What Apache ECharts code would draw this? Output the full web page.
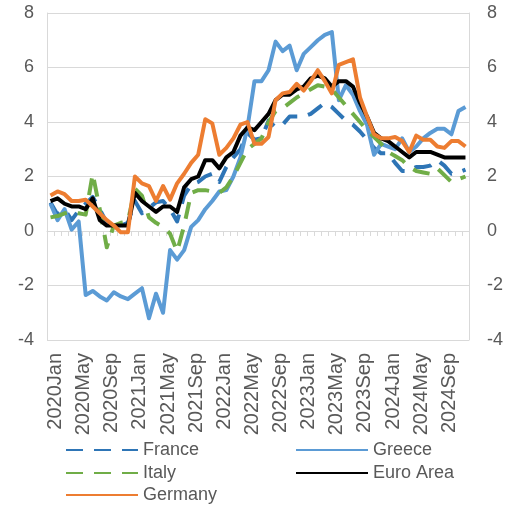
<!DOCTYPE html>
<html>
<head>
<meta charset="utf-8">
<script src="https://cdn.jsdelivr.net/npm/echarts@6/dist/echarts.min.js"></script>
<style>
html,body{margin:0;padding:0;background:#fff;}
#chart{width:515px;height:505px;}
</style>
</head>
<body>
<div id="chart"></div>
<script>
var categories = [
"2020Jan","2020Feb","2020Mar","2020Apr","2020May","2020Jun","2020Jul","2020Aug","2020Sep","2020Oct","2020Nov","2020Dec",
"2021Jan","2021Feb","2021Mar","2021Apr","2021May","2021Jun","2021Jul","2021Aug","2021Sep","2021Oct","2021Nov","2021Dec",
"2022Jan","2022Feb","2022Mar","2022Apr","2022May","2022Jun","2022Jul","2022Aug","2022Sep","2022Oct","2022Nov","2022Dec",
"2023Jan","2023Feb","2023Mar","2023Apr","2023May","2023Jun","2023Jul","2023Aug","2023Sep","2023Oct","2023Nov","2023Dec",
"2024Jan","2024Feb","2024Mar","2024Apr","2024May","2024Jun","2024Jul","2024Aug","2024Sep","2024Oct","2024Nov","2024Dec"
];

var france = [1.05,0.6,0.8,0.4,0.75,1.0,1.25,0.8,0.3,0.25,0.2,0.3,
1.1,0.65,0.85,1.05,1.1,0.8,0.35,1.3,1.7,1.8,2.0,2.1,
1.8,2.35,2.7,3.0,3.6,3.35,3.4,4.05,3.8,3.9,4.2,4.2,
4.2,4.3,4.5,4.7,4.55,4.3,4.05,3.9,3.65,3.35,3.05,2.85,
2.85,2.5,2.2,2.2,2.35,2.35,2.4,2.6,2.4,2.1,2.15,2.25];

var greece = [1.0,0.4,0.8,0.05,0.35,-2.35,-2.2,-2.4,-2.55,-2.25,-2.4,-2.5,
-2.3,-2.1,-3.2,-2.3,-3.0,-0.7,-1.05,-0.7,0.15,0.4,0.8,1.1,
1.45,1.5,2.0,2.7,3.8,5.5,5.5,5.9,6.95,6.6,6.8,5.9,
6.5,6.75,7.0,7.2,7.3,4.8,5.35,5.0,4.4,3.9,2.8,3.2,
3.1,3.0,3.4,2.9,3.1,3.4,3.6,3.75,3.75,3.55,4.4,4.55];

var italy = [0.5,0.55,0.65,0.7,0.65,0.6,2.1,0.8,-0.6,0.2,0.3,0.35,
1.55,1.3,0.5,0.3,0.15,-0.1,-0.75,0.2,1.4,1.5,1.5,1.45,
1.4,1.6,2.0,2.5,3.0,3.2,3.4,4.0,4.4,4.5,4.7,4.9,
5.05,5.2,5.35,5.3,5.2,4.9,4.6,4.3,4.0,3.7,3.45,3.2,
2.9,2.75,2.6,2.35,2.2,2.15,2.1,2.3,2.05,1.8,1.9,2.0];

var euroArea = [1.1,1.2,1.0,0.9,0.9,0.8,1.2,0.4,0.2,0.2,0.2,0.2,
1.4,1.1,0.9,0.7,0.9,0.9,0.7,1.6,1.9,2.0,2.6,2.6,
2.3,2.7,2.9,3.5,3.8,3.7,4.0,4.3,4.8,5.0,5.0,5.2,
5.3,5.6,5.7,5.6,5.3,5.5,5.5,5.3,4.7,4.2,3.6,3.4,
3.3,3.1,2.9,2.7,2.9,2.9,2.9,2.8,2.7,2.7,2.7,2.7];

var germany = [1.3,1.45,1.35,1.1,1.1,1.15,0.9,0.65,0.4,0.2,-0.05,-0.05,
2.0,1.75,1.65,1.1,1.65,1.15,1.75,2.1,2.5,2.8,4.1,3.95,
2.8,3.05,3.4,3.9,4.0,3.2,3.2,3.45,4.8,5.05,5.1,5.4,
5.15,5.5,5.9,5.5,5.05,6.1,6.2,6.3,4.9,4.2,3.55,3.4,
3.4,3.45,3.3,2.9,3.5,3.35,3.35,3.1,3.05,3.3,3.3,3.1];

var yTicks = {min: -4, max: 8, interval: 2};

var FONT = "Liberation Sans";
var TXT = "#595959";
var GRID = "#D9D9D9";

var chart = echarts.init(document.getElementById('chart'), null, {renderer: 'canvas'});

function legendAt(name, left, top) {
  return {
    data: [name], left: left, top: top, orient: 'horizontal',
    itemWidth: 72, itemHeight: 14, itemGap: 0, padding: 0,
    itemStyle: {opacity: 0},
    textStyle: {fontFamily: FONT, fontSize: 18, color: TXT},
    selectedMode: false
  };
}

function lineSeries(name, data, color, dashed) {
  return {
    name: name, type: 'line', data: data,
    xAxisIndex: 0, yAxisIndex: 0,
    symbol: 'none', smooth: false,
    lineStyle: {color: color, width: 4, type: dashed ? [17, 11] : 'solid', cap: 'butt', join: 'round'},
    itemStyle: {color: color},
    emphasis: {disabled: true},
    animation: false
  };
}

var option = {
  animation: false,
  backgroundColor: '#ffffff',
  grid: {left: 47, right: 46, top: 13, bottom: 165, containLabel: false, outerBoundsMode: 'none'},
  legend: [
    legendAt('France', 65, 441),
    legendAt('Greece', 295, 441),
    legendAt('Italy', 65, 464),
    legendAt('Euro Area', 295, 464),
    legendAt('Germany', 65, 486)
  ],
  xAxis: [
    {
      type: 'category', data: categories, boundaryGap: true, position: 'bottom',
      axisLine: {show: false}, axisTick: {show: false}, splitLine: {show: false},
      axisLabel: {interval: 3, rotate: 90, margin: 13, fontFamily: FONT, fontSize: 20, color: TXT,
                  verticalAlign: 'top', lineHeight: 10}
    },
    {
      type: 'category', data: categories, boundaryGap: true, position: 'bottom',
      axisLine: {show: true, onZero: true, onZeroAxisIndex: 0, lineStyle: {color: GRID, width: 1}},
      axisTick: {show: true, interval: 0, length: 5, lineStyle: {color: GRID, width: 1}},
      axisLabel: {show: false}, splitLine: {show: false}
    }
  ],
  yAxis: [
    {
      type: 'value', position: 'left', min: yTicks.min, max: yTicks.max, interval: yTicks.interval,
      axisLine: {show: true, lineStyle: {color: GRID, width: 1}},
      axisTick: {show: false},
      splitLine: {show: true, lineStyle: {color: GRID, width: 1}},
      axisLabel: {margin: 13, fontFamily: FONT, fontSize: 18, color: TXT}
    },
    {
      type: 'value', position: 'right', min: yTicks.min, max: yTicks.max, interval: yTicks.interval,
      axisLine: {show: true, lineStyle: {color: GRID, width: 1}},
      axisTick: {show: false},
      splitLine: {show: false},
      axisLabel: {margin: 18, fontFamily: FONT, fontSize: 18, color: TXT}
    }
  ],
  series: [
    lineSeries('France', france, '#2E75B6', true),
    lineSeries('Greece', greece, '#5B9BD5', false),
    lineSeries('Italy', italy, '#70AD47', true),
    lineSeries('Euro Area', euroArea, '#000000', false),
    lineSeries('Germany', germany, '#ED7D31', false)
  ]
};
chart.setOption(option);
</script>
</body>
</html>
